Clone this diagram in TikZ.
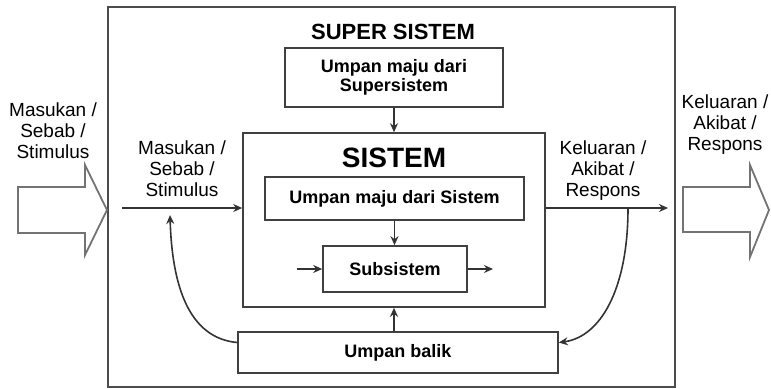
\documentclass[tikz,border=0pt]{standalone}
\usepackage{fontspec}
\setmainfont{Liberation Sans}
\usetikzlibrary{positioning,arrows.meta}

\begin{document}
\begin{tikzpicture}[x=0.5pt,y=-0.5pt,
  blok/.style={draw=black!75, line width=0.8pt, inner sep=0pt, align=center,
    font=\fontsize{9}{9.5}\selectfont\bfseries},
  lbl/.style={align=center, font=\fontsize{9.5}{10.5}\selectfont},
  garis/.style={draw=black!80, line width=0.8pt, -{Stealth[length=4.5pt,width=4pt]}},
  panah/.style={draw=black!55, line width=0.9pt, line join=miter}]
\useasboundingbox (0,0) rectangle (771,388);
% outer frame and titles
\node[draw=black!70, line width=1.4pt, minimum width=283.5pt, minimum height=190pt] (super) at (391.5,197) {};
\node[font=\fontsize{11}{12}\selectfont\bfseries] (suplbl) at (393,32) {SUPER SISTEM};
\node[blok, minimum width=109pt, minimum height=29.5pt] (supfw) at (394,77.5) {Umpan maju dari\\Supersistem};
\node[blok, minimum width=151pt, minimum height=87pt] (sistem) at (394,220) {};
\node[font=\fontsize{14}{14}\selectfont\bfseries] (sislbl) at (394,158) {SISTEM};
\node[blok, minimum width=129.5pt, minimum height=21.5pt] (sysfw) at (394.5,198.5) {Umpan maju dari Sistem};
\node[blok, minimum width=72pt, minimum height=23pt] (subsis) at (395,269) {Subsistem};
\node[blok, minimum width=160pt, minimum height=20.5pt] (balik) at (398,352.5) {Umpan balik};
% inner connectors
\draw[garis] (supfw.south) -- (sistem.north);
\draw[garis] (sysfw.south) -- (sysfw.south |- subsis.north);
\draw[garis] (sistem.south |- balik.north) -- (sistem.south);
\coordinate (subin) at (297,269);
\coordinate (subout) at (493,269);
\draw[garis] (subin) -- (subin -| subsis.west);
\draw[garis] (subout -| subsis.east) -- (subout);
% input / output of the system
\coordinate (masuk) at (122,208);
\coordinate (keluar) at (668,208);
\draw[garis] (masuk) -- (masuk -| sistem.west);
\draw[garis] (keluar -| sistem.east) -- (keluar);
\node[lbl] (lblin) at (182,169) {Masukan /\\Sebab /\\Stimulus};
\node[lbl] (lblout) at (603,171) {Keluaran /\\Akibat /\\Respons};
% feedback loops
\coordinate (kiriup) at (170,215);
\coordinate (kanandown) at (628,208);
\draw[garis] ([yshift=5pt]balik.west) .. controls (188,338) and (172,284) .. (kiriup);
\draw[garis] (kanandown) .. controls (628,290) and (600,337) .. ([yshift=5pt]balik.east);
% big hollow arrows
\draw[panah] (18,187) -- (85,187) -- (85,165) -- (107,210) -- (85,255) -- (85,233) -- (18,233) -- cycle;
\draw[panah] (683,187) -- (750,187) -- (750,165) -- (769,210) -- (750,257) -- (750,232) -- (683,232) -- cycle;
\node[lbl] (srcin) at (53,131) {Masukan /\\Sebab /\\Stimulus};
\node[lbl] (srcout) at (725,125) {Keluaran /\\Akibat /\\Respons};
\end{tikzpicture}
\end{document}
